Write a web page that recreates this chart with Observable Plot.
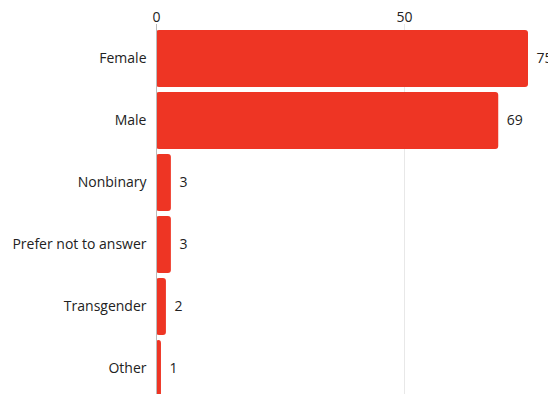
<!DOCTYPE html>
<html><head><meta charset="utf-8">
<script src="https://cdn.jsdelivr.net/npm/d3@7"></script>
<script src="https://cdn.jsdelivr.net/npm/@observablehq/plot@0.6"></script>
<style>body{margin:0;background:#fff;overflow:hidden}</style>
</head><body><div id="chart"></div>
<script>
const categories = ["Female","Male","Nonbinary","Prefer not to answer","Transgender","Other"];
const counts = [75,69,3,3,2,1];
const xTicks = [0,50];
const data = categories.map((c,i)=>({category:c,count:counts[i]}));
const chart = Plot.plot({
  width:548, height:404,
  marginLeft:156, marginRight:20, marginTop:24, marginBottom:0,
  style:{fontFamily:"'Open Sans', sans-serif", fontSize:"14px", color:"#222", overflow:"visible"},
  x:{domain:[0,75], axis:"top", ticks:xTicks, tickSize:0, label:null, grid:true, tickPadding:3},
  y:{domain:categories, padding:0.08, label:null, tickSize:0, tickPadding:10},
  marks:[
    Plot.gridX(xTicks,{stroke:"#d4d4d4", strokeOpacity:1, y1:-8, y2:420}),
    Plot.barX(data,{x:"count", y:"category", fill:"#EE3524", rx:3}),
    Plot.ruleX([0],{stroke:"#bbb"}),
    Plot.text(data,{x:"count", y:"category", text:d=>String(d.count), textAnchor:"start", dx:8, fill:"#222", fontSize:14})
  ]
});
document.getElementById("chart").appendChild(chart);
</script></body></html>
